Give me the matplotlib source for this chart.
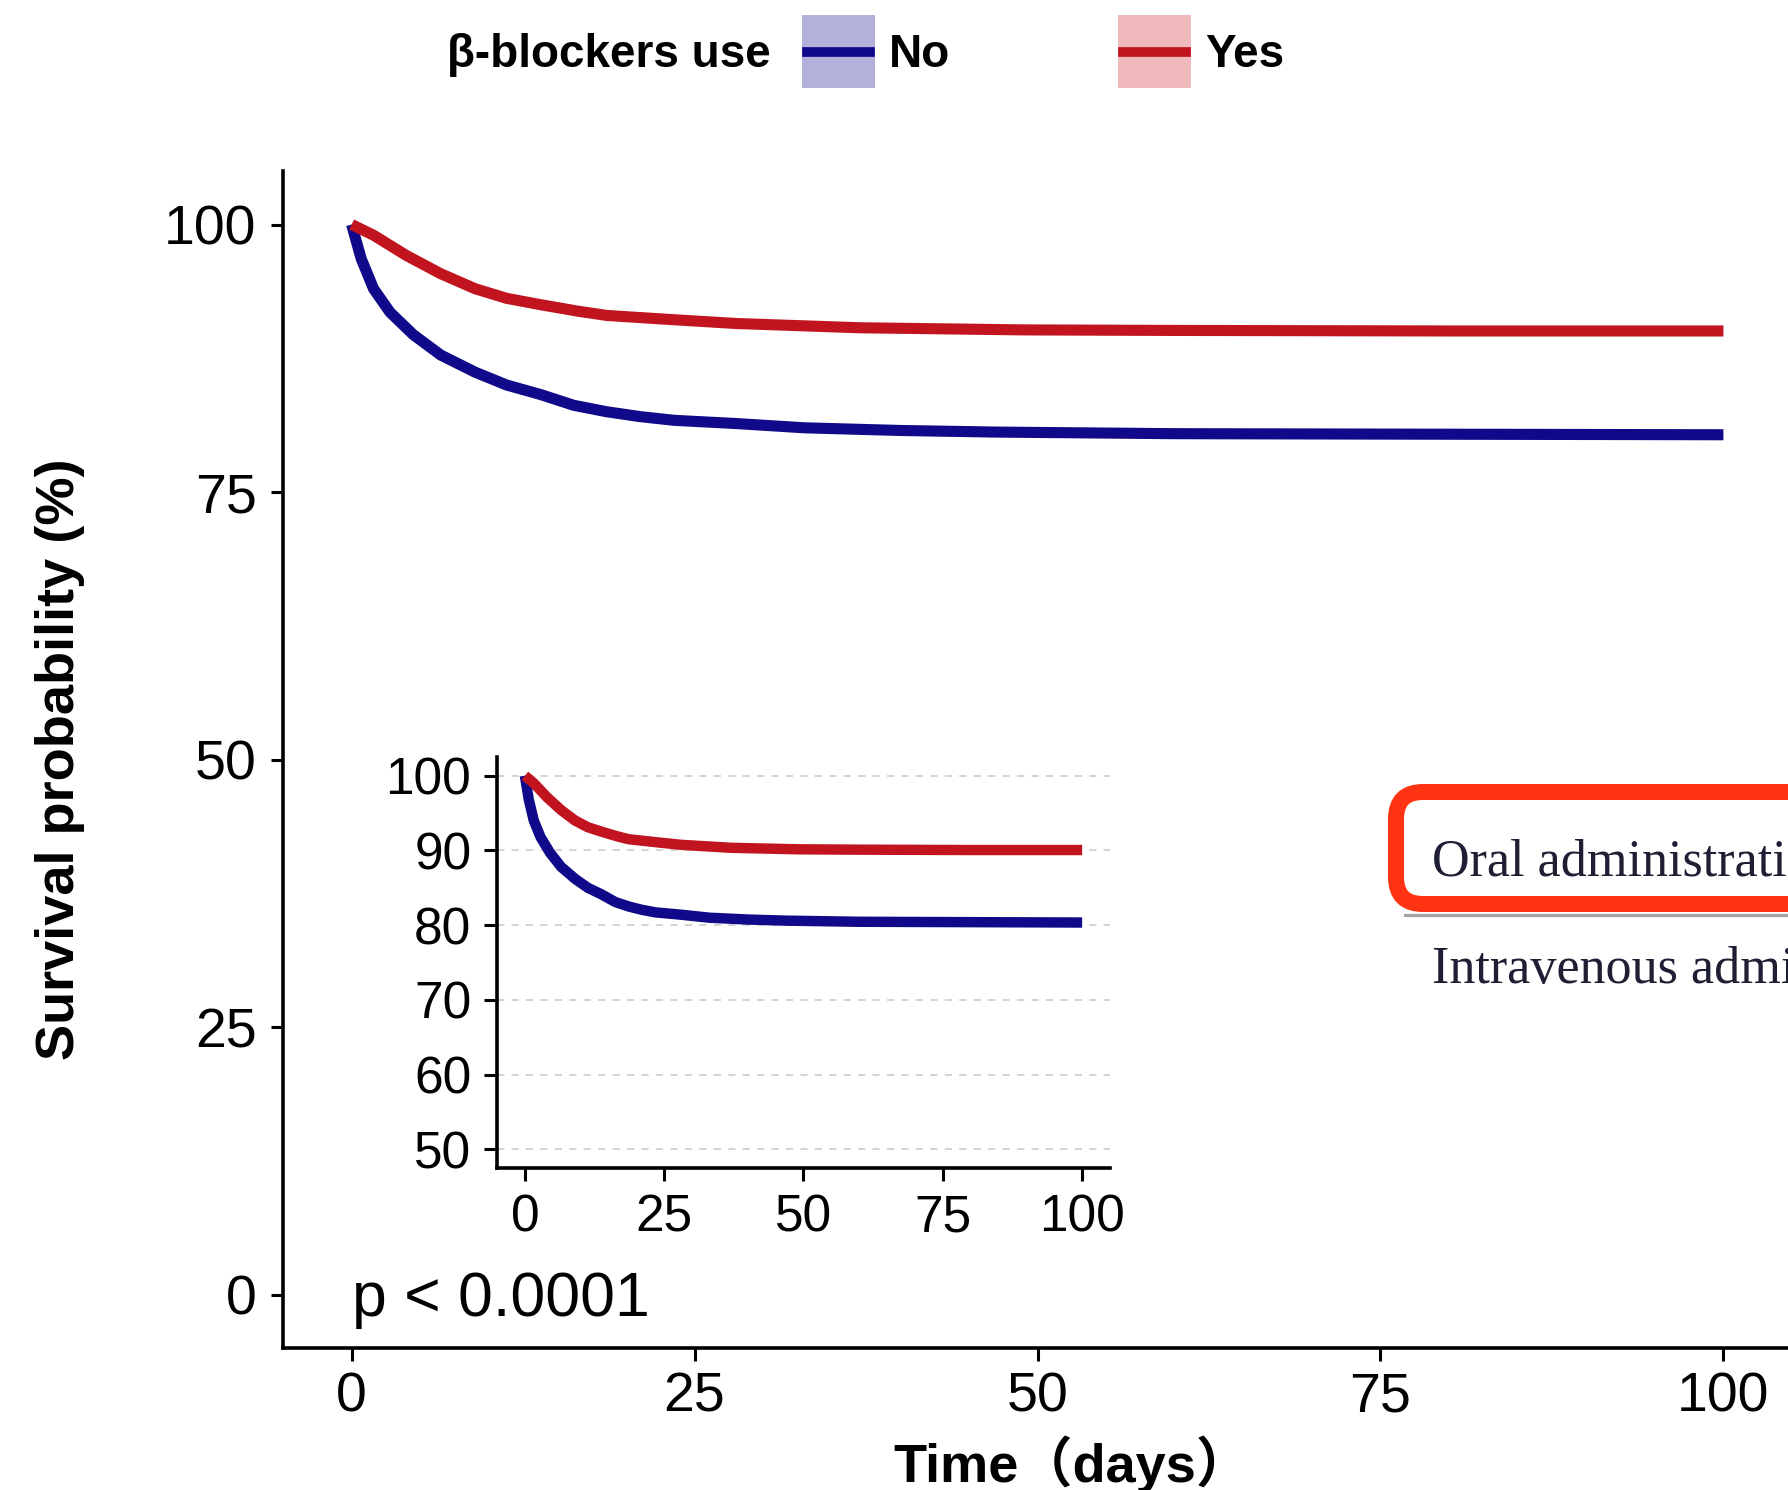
import matplotlib
matplotlib.use("Agg")
import matplotlib.pyplot as plt
from matplotlib.patches import FancyBboxPatch, Rectangle
from matplotlib.lines import Line2D

plt.rcParams['font.family'] = ['Liberation Sans', 'Noto Sans CJK SC', 'DejaVu Sans']

# ---------------- data ----------------
time_no = [0, 0.7, 1.6, 2.8, 4.5, 6.5, 9, 11.3, 13.8, 16.2, 18.6, 21, 23.5, 28, 33, 40, 47, 60, 80, 100]
surv_no = [100, 96.8, 94.0, 91.8, 89.7, 87.8, 86.2, 85.0, 84.1, 83.1, 82.5, 82.05, 81.7, 81.4, 81.0, 80.75, 80.6, 80.45, 80.4, 80.35]
time_yes = [0, 1.6, 4, 6.5, 9, 11.3, 13.8, 16.5, 18.6, 23.5, 28, 37, 49, 60, 80, 100]
surv_yes = [100, 99.0, 97.1, 95.4, 94.0, 93.1, 92.5, 91.9, 91.5, 91.1, 90.75, 90.35, 90.15, 90.1, 90.05, 90.05]

groups = ["No", "Yes"]
legend_title = "β-blockers use"
main_yticks = [0, 25, 50, 75, 100]
main_xticks = [0, 25, 50, 75, 100]
inset_yticks = [50, 60, 70, 80, 90, 100]
inset_xticks = [0, 25, 50, 75, 100]
pval_text = "p < 0.0001"
box_texts = ["Oral administration", "Intravenous administration"]

col_no = '#10098a'
col_yes = '#c1141f'
fill_no = '#b3b0dc'
fill_yes = '#efb8ba'

W, H = 1788, 1490
fig = plt.figure(figsize=(W / 100, H / 100), dpi=100)


def fx(px):
    return px / W


def fy(py):
    return 1 - py / H


# ---------------- main axes ----------------
ax = fig.add_axes([fx(283), fy(1348), fx(1792) - fx(283), fy(171) - fy(1348)])
ax.plot(time_no, surv_no, color=col_no, lw=8, solid_capstyle='butt', solid_joinstyle='round', zorder=3)
ax.plot(time_yes, surv_yes, color=col_yes, lw=8, solid_capstyle='butt', solid_joinstyle='round', zorder=3)
ax.set_xlim(-5, 105)
ax.set_ylim(-5, 105)
ax.set_xticks(main_xticks)
ax.set_yticks(main_yticks)
for s in ['top', 'right']:
    ax.spines[s].set_visible(False)
for s in ['left', 'bottom']:
    ax.spines[s].set_linewidth(2.6)
    ax.spines[s].set_color('black')
ax.tick_params(axis='both', length=9, width=2.2, labelsize=40, colors='black')
ax.tick_params(axis='y', pad=10)
ax.tick_params(axis='x', pad=8)
ax.text(0, -2.0, pval_text, fontsize=45, va='baseline', ha='left')

ax.set_ylabel("Survival probability (%)", fontsize=39, fontweight='bold')
ax.yaxis.set_label_coords(-0.131, 0.5)
ax.set_xlabel("Time（days）", fontsize=39, fontweight='bold')
ax.xaxis.set_label_coords(0.523, -0.074)

# ---------------- inset axes ----------------
ai = fig.add_axes([fx(497), fy(1168), fx(1110) - fx(497), fy(757) - fy(1168)])
ai.set_facecolor('white')
ai.plot(time_no, surv_no, color=col_no, lw=7.5, solid_capstyle='butt', solid_joinstyle='round', zorder=3)
ai.plot(time_yes, surv_yes, color=col_yes, lw=7.5, solid_capstyle='butt', solid_joinstyle='round', zorder=3)
ai.set_xlim(-5, 105)
ai.set_ylim(47.5, 102.5)
ai.set_xticks(inset_xticks)
ai.set_yticks(inset_yticks)
ai.yaxis.grid(True, linestyle=(0, (4, 4)), color='#d0d0d0', lw=1.3)
ai.set_axisbelow(True)
for s in ['top', 'right']:
    ai.spines[s].set_visible(False)
for s in ['left', 'bottom']:
    ai.spines[s].set_linewidth(2.6)
ai.tick_params(axis='both', length=9.5, width=2.2, labelsize=37, colors='black', pad=9)

# ---------------- legend (top) ----------------
inch = fig.dpi_scale_trans
fig.text(fx(447), fy(67), legend_title, fontsize=33, fontweight='bold', va='baseline', ha='left')
for x0, fill, col, lab in [(802, fill_no, col_no, groups[0]), (1118, fill_yes, col_yes, groups[1])]:
    fig.patches.append(Rectangle((x0 / 100, (H - 88) / 100), 0.73, 0.73, transform=inch,
                                 facecolor=fill, edgecolor='none', figure=fig))
    fig.lines.append(Line2D([(x0 + 5) / 100, (x0 + 68) / 100], [(H - 52) / 100] * 2, transform=inch,
                            color=col, lw=7, figure=fig))
    fig.text(fx(x0 + 87), fy(67), lab, fontsize=33, fontweight='bold', va='baseline', ha='left')

# ---------------- pasted red box overlay ----------------
fig.patches.append(FancyBboxPatch((1396 / 100, (H - 904) / 100), 6.0, 1.12,
                                  boxstyle='round,pad=0,rounding_size=0.27', transform=inch,
                                  facecolor='white', edgecolor='#ff3212', lw=11.5, figure=fig, zorder=5))
fig.lines.append(Line2D([1405 / 100, 1800 / 100], [(H - 914.5) / 100] * 2, transform=inch,
                        color='#a5a5a5', lw=2.3, figure=fig, zorder=5))
fig.text(fx(1432), fy(875), box_texts[0], fontsize=37.5, family='Liberation Serif',
         color='#1e1e34', va='baseline', ha='left', zorder=6)
fig.text(fx(1432), fy(983), box_texts[1], fontsize=37.5, family='Liberation Serif',
         color='#1e1e34', va='baseline', ha='left', zorder=6)

fig.savefig('out.png', dpi=100, facecolor='white')
